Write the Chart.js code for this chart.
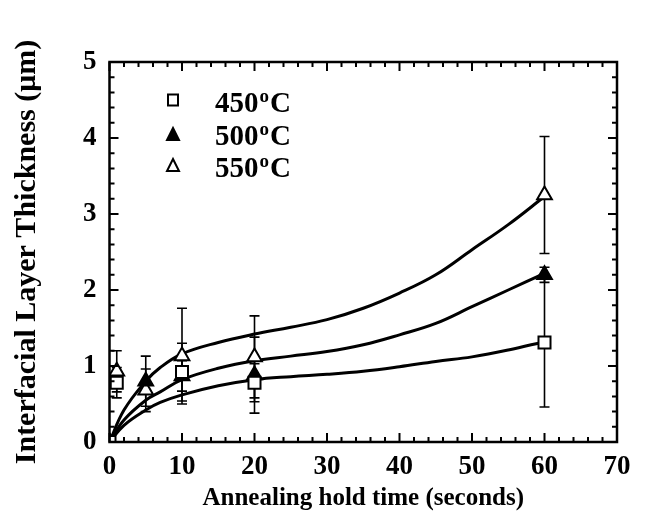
<!DOCTYPE html>
<html><head><meta charset="utf-8">
<script src="https://cdn.jsdelivr.net/npm/chart.js@4/dist/chart.umd.min.js"></script>
<style>html,body{margin:0;padding:0;background:#fff}#wrap{width:646px;height:515px}</style>
</head><body><div id="wrap"><canvas id="c" width="646" height="515"></canvas></div>
<script>
// ---- data ----
const seriesLabels = ["450", "500", "550"];
const x450 = [0, 1, 10, 20, 60];
const y450 = [0, 0.78, 0.92, 0.78, 1.31];
const e450 = [0, 0.2, 0.38, 0.25, 0.85];
const x500 = [0, 5, 10, 20, 60];
const y500 = [0, 0.8, 0.87, 0.88, 2.2];
const e500 = [0, 0.33, 0.2, 0.5, 0.1];
const x550 = [0, 1, 5, 10, 20, 60];
const y550 = [0, 0.93, 0.68, 1.13, 1.12, 3.25];
const e550 = [0, 0.27, 0.28, 0.63, 0.54, 0.77];
// fitted curves
const curveX   = [0, 2, 5, 7, 10, 15, 20, 25, 30, 35, 40, 45, 50, 55, 60];
const curve450 = [0, 0.22, 0.42, 0.52, 0.62, 0.74, 0.82, 0.86, 0.89, 0.93, 0.99, 1.06, 1.12, 1.21, 1.32];
const curve500 = [0, 0.29, 0.55, 0.66, 0.82, 0.97, 1.07, 1.13, 1.19, 1.28, 1.41, 1.56, 1.78, 2.0, 2.22];
const curve550 = [0, 0.42, 0.8, 0.98, 1.16, 1.31, 1.42, 1.51, 1.61, 1.76, 1.96, 2.2, 2.53, 2.86, 3.23];
const xTicks = [0, 10, 20, 30, 40, 50, 60, 70];
const yTicks = [0, 1, 2, 3, 4, 5];

const FONT = "'Liberation Serif','Times New Roman',serif";
const pts = (xs, ys) => xs.map((x, i) => ({x: x, y: ys[i]}));

const markerSets = [
  {xs: x450, ys: y450, es: e450, style: 'rect', fill: '#fff', r: 8.5},
  {xs: x500, ys: y500, es: e500, style: 'triangle', fill: '#000', r: 8.5},
  {xs: x550, ys: y550, es: e550, style: 'triangle', fill: '#fff', r: 8.5}
];

const datasets = [];
[curve450, curve500, curve550].forEach(c => datasets.push({
  data: pts(curveX, c), showLine: true, borderColor: '#000', borderWidth: 3,
  pointRadius: 0, tension: 0.4, fill: false, order: 2
}));
markerSets.forEach(m => datasets.push({
  data: pts(m.xs, m.ys), showLine: false, pointStyle: m.style, pointRadius: m.r,
  pointBackgroundColor: m.fill, pointBorderColor: '#000', pointBorderWidth: 2, order: 1
}));

const decor = {
  id: 'decor',
  beforeDatasetsDraw(chart) {
    const {ctx, scales: {x, y}} = chart;
    ctx.save();
    ctx.strokeStyle = '#000'; ctx.lineWidth = 1.6;
    markerSets.forEach(m => {
      m.xs.forEach((xv, i) => {
        if (!m.es[i]) return;
        const px = x.getPixelForValue(xv);
        const lo = y.getPixelForValue(m.ys[i] - m.es[i]);
        const hi = y.getPixelForValue(m.ys[i] + m.es[i]);
        ctx.beginPath();
        ctx.moveTo(px, lo); ctx.lineTo(px, hi);
        ctx.moveTo(px - 5, lo); ctx.lineTo(px + 5, lo);
        ctx.moveTo(px - 5, hi); ctx.lineTo(px + 5, hi);
        ctx.stroke();
      });
    });
    ctx.restore();
  },
  afterDraw(chart) {
    const {ctx, chartArea: a, scales: {x, y}} = chart;
    ctx.save();
    ctx.strokeStyle = '#000';
    ctx.lineWidth = 2.5;
    ctx.strokeRect(a.left, a.top, a.right - a.left, a.bottom - a.top);
    ctx.lineWidth = 2;
    ctx.beginPath();
    for (let v = 0; v <= 70.001; v += 2) {
      const px = x.getPixelForValue(v);
      const len = (Math.round(v) % 10 === 0) ? 9 : 5;
      ctx.moveTo(px, a.bottom); ctx.lineTo(px, a.bottom - len);
      ctx.moveTo(px, a.top); ctx.lineTo(px, a.top + len);
    }
    for (let k = 0; k <= 25; k++) {
      const v = k * 0.2;
      const py = y.getPixelForValue(v);
      const len = (k % 5 === 0) ? 9 : 5;
      ctx.moveTo(a.left, py); ctx.lineTo(a.left + len, py);
      ctx.moveTo(a.right, py); ctx.lineTo(a.right - len, py);
    }
    ctx.stroke();
    // legend
    const markY = [100, 135, 166];
    const baseY = [112, 145, 177];
    markerSets.forEach((m, i) => {
      const cx = 173, cy = markY[i];
      ctx.lineWidth = 2; ctx.fillStyle = m.fill; ctx.strokeStyle = '#000';
      ctx.beginPath();
      if (m.style === 'rect') {
        ctx.rect(cx - 5, cy - 5.5, 10, 11);
      } else {
        ctx.moveTo(cx, cy - 7); ctx.lineTo(cx + 6, cy + 5); ctx.lineTo(cx - 6, cy + 5); ctx.closePath();
      }
      ctx.fill(); ctx.stroke();
      ctx.fillStyle = '#000';
      ctx.textBaseline = 'alphabetic'; ctx.textAlign = 'left';
      ctx.font = 'bold 29px ' + FONT;
      const base = baseY[i];
      ctx.fillText(seriesLabels[i], 215, base);
      const w = ctx.measureText(seriesLabels[i]).width;
      ctx.font = 'bold 19px ' + FONT;
      ctx.fillText('o', 215 + w + 1, base - 10);
      const w2 = ctx.measureText('o').width;
      ctx.font = 'bold 29px ' + FONT;
      ctx.fillText('C', 215 + w + w2 + 2, base);
    });
    ctx.restore();
  }
};

new Chart(document.getElementById('c'), {
  type: 'scatter',
  data: {datasets: datasets},
  options: {
    responsive: false, animation: false, devicePixelRatio: 1,
    layout: {padding: {left: 0, right: 29, top: 62, bottom: 0}},
    plugins: {legend: {display: false}, tooltip: {enabled: false}},
    scales: {
      x: {
        type: 'linear', min: 0, max: 70,
        afterBuildTicks: s => { s.ticks = xTicks.map(v => ({value: v})); },
        afterFit: s => { s.height = 73; },
        grid: {display: false, drawTicks: false}, border: {display: false},
        ticks: {color: '#000', padding: 9, font: {family: FONT, size: 27, weight: 'bold'}},
        title: {display: true, text: 'Annealing hold time (seconds)', color: '#000',
                padding: {top: 0, bottom: 1}, font: {family: FONT, size: 25, weight: 'bold'}}
      },
      y: {
        type: 'linear', min: 0, max: 5,
        afterBuildTicks: s => { s.ticks = yTicks.map(v => ({value: v})); },
        afterFit: s => { s.width = 109.5; },
        grid: {display: false, drawTicks: false}, border: {display: false},
        ticks: {color: '#000', padding: 13, font: {family: FONT, size: 27, weight: 'bold'}},
        title: {display: true, text: 'Interfacial Layer Thickness (\u03bcm)', color: '#000',
                padding: {top: 9, bottom: 0}, font: {family: FONT, size: 30, weight: 'bold'}}
      }
    }
  },
  plugins: [decor]
});
</script></body></html>
